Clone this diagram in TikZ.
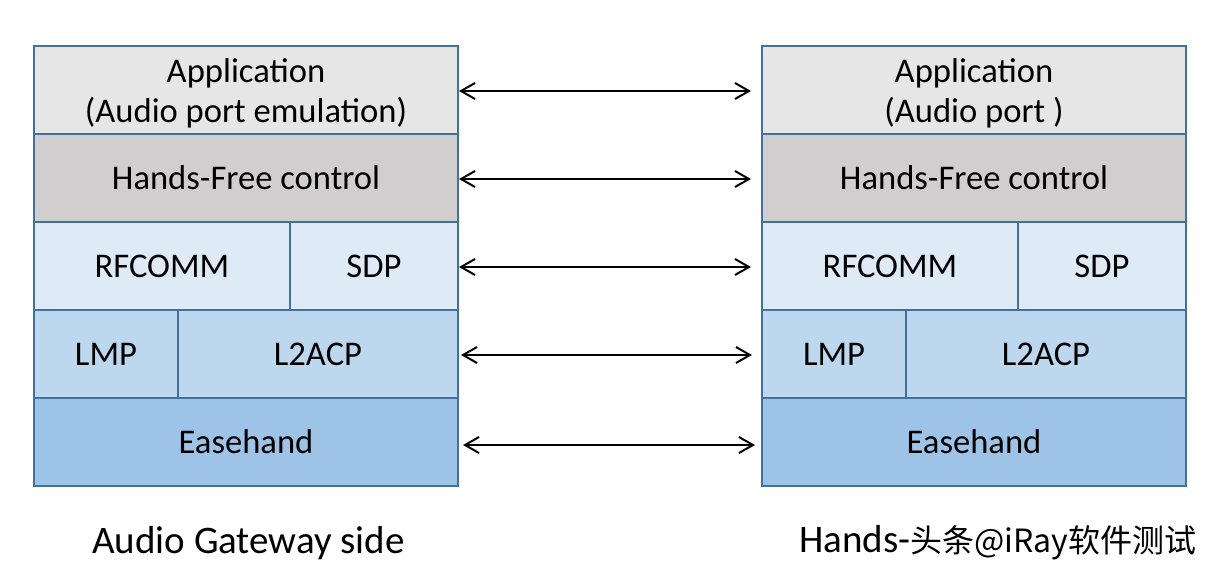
\documentclass[tikz,border=0pt]{standalone}
\usepackage{fontspec}
\setmainfont{Carlito}
\newfontfamily\cjk{Noto Sans CJK SC}
\usetikzlibrary{arrows.meta}
\definecolor{bordc}{HTML}{41719C}
\definecolor{appc}{HTML}{E7E6E6}
\definecolor{hfc}{HTML}{D0CECE}
\definecolor{rfc}{HTML}{DEEBF7}
\definecolor{lmc}{HTML}{BDD7EE}
\definecolor{bbc}{HTML}{9DC3E6}
\begin{document}
\begin{tikzpicture}[x=1pt,y=-1pt,
  cell/.style={draw=bordc, line width=1.8pt, inner sep=0pt, outer sep=0pt,
    minimum height=88pt, align=center, text=black,
    font=\fontsize{34.6}{40}\selectfont},
  celltext/.style={inner sep=0pt, align=center, text=black,
    font=\fontsize{34.6}{40}\selectfont},
  link/.style={{Straight Barb[length=14pt,width=16pt]}-{Straight Barb[length=14pt,width=16pt]}, line width=2pt},
  sidelabel/.style={font=\fontsize{39}{44}\selectfont, inner sep=0pt}]
\useasboundingbox[fill=white] (0,0) rectangle (1212,576);
% left stack
\node[cell, fill=appc, minimum width=424pt] (lapp) at (246,90) {};
\node[celltext] (lapptxt) at (246,93) {Application\\(Audio port emulation)};
\node[cell, fill=hfc, minimum width=424pt] (lhf) at (246,178) {Hands-Free control};
\node[cell, fill=rfc, minimum width=256pt] (lrf) at (162,266) {RFCOMM};
\node[cell, fill=rfc, minimum width=168pt] (lsdp) at (374,266) {SDP};
\node[cell, fill=lmc, minimum width=144pt] (llmp) at (106,354) {LMP};
\node[cell, fill=lmc, minimum width=280pt] (ll2) at (318,354) {L2ACP};
\node[cell, fill=bbc, minimum width=424pt] (lbb) at (246,442) {Easehand};
% right stack
\node[cell, fill=appc, minimum width=424pt] (rapp) at (974,90) {};
\node[celltext] (rapptxt) at (974,93) {Application\\(Audio port )};
\node[cell, fill=hfc, minimum width=424pt] (rhf) at (974,178) {Hands-Free control};
\node[cell, fill=rfc, minimum width=256pt] (rrf) at (890,266) {RFCOMM};
\node[cell, fill=rfc, minimum width=168pt] (rsdp) at (1102,266) {SDP};
\node[cell, fill=lmc, minimum width=144pt] (rlmp) at (834,354) {LMP};
\node[cell, fill=lmc, minimum width=280pt] (rl2) at (1046,354) {L2ACP};
\node[cell, fill=bbc, minimum width=424pt] (rbb) at (974,442) {Easehand};
% links
\draw[link] ([xshift=1pt,yshift=-1pt]lapp.east) -- ([xshift=-11pt,yshift=-1pt]rapp.west);
\draw[link] ([xshift=1pt,yshift=-1pt]lhf.east) -- ([xshift=-11pt,yshift=-1pt]rhf.west);
\draw[link] ([xshift=1pt,yshift=-1pt]lsdp.east) -- ([xshift=-11pt,yshift=-1pt]rrf.west);
\draw[link] ([xshift=3pt,yshift=-1pt]ll2.east) -- ([xshift=-10pt,yshift=-1pt]rlmp.west);
\draw[link] ([xshift=5pt,yshift=-3pt]lbb.east) -- ([xshift=-7pt,yshift=-3pt]rbb.west);
% side labels
\node[sidelabel] (lside) at (248.5,543) {Audio Gateway side};
\node[sidelabel, anchor=west] (rside) at (799,543) {Hands-{\cjk\fontsize{32}{36}\selectfont 头条@iRay软件测试}};
\end{tikzpicture}
\end{document}
